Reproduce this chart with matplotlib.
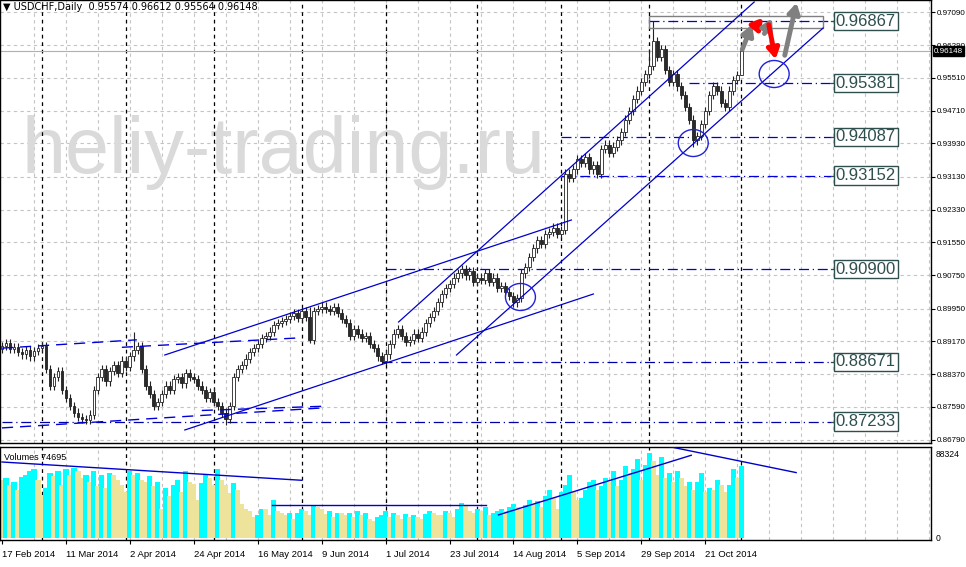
import matplotlib
matplotlib.use("Agg")
import matplotlib.pyplot as plt
from matplotlib.patches import Ellipse, Rectangle
import numpy as np

closes = [0.8905,0.8912,0.8898,0.8903,0.8890,0.8885,0.8896,0.8880,0.8893,0.8900,
          0.8905,0.8850,0.8810,0.8830,0.8845,0.8800,0.8780,0.8760,0.8745,0.8735,
          0.8730,0.8728,0.8740,0.8800,0.8830,0.8850,0.8820,0.8845,0.8860,0.8840,
          0.8870,0.8855,0.8880,0.8895,0.8905,0.8850,0.8810,0.8790,0.8760,0.8770,
          0.8790,0.8810,0.8800,0.8825,0.8830,0.8815,0.8840,0.8830,0.8825,0.8810,
          0.8800,0.8780,0.8795,0.8770,0.8760,0.8745,0.8730,0.8760,0.8830,0.8850,
          0.8860,0.8875,0.8890,0.8900,0.8910,0.8925,0.8930,0.8940,0.8955,0.8960,
          0.8965,0.8970,0.8978,0.8985,0.8972,0.8990,0.8975,0.8920,0.8990,0.8995,
          0.9000,0.8995,0.8990,0.8998,0.8985,0.8970,0.8960,0.8930,0.8945,0.8935,
          0.8925,0.8930,0.8910,0.8900,0.8880,0.8870,0.8885,0.8910,0.8935,0.8945,
          0.8930,0.8915,0.8920,0.8935,0.8925,0.8940,0.8960,0.8975,0.8990,0.9010,
          0.9030,0.9045,0.9055,0.9070,0.9080,0.9090,0.9075,0.9085,0.9060,0.9070,
          0.9065,0.9080,0.9060,0.9070,0.9045,0.9050,0.9035,0.9025,0.9010,0.9020,
          0.9080,0.9095,0.9120,0.9140,0.9160,0.9150,0.9175,0.9180,0.9190,0.9175,
          0.9185,0.9320,0.9310,0.9330,0.9355,0.9345,0.9360,0.9330,0.9340,0.9320,
          0.9380,0.9390,0.9370,0.9385,0.9400,0.9420,0.9450,0.9470,0.9500,0.9520,
          0.9540,0.9560,0.9580,0.9640,0.9600,0.9620,0.9570,0.9540,0.9560,0.9530,
          0.9510,0.9480,0.9450,0.9400,0.9410,0.9440,0.9470,0.9510,0.9530,0.9520,
          0.9490,0.9480,0.9520,0.9545,0.95574,0.96148]
first_open = 0.8898
wick = 0.0010
extreme_highs = {33: 0.8940, 163: 0.96867, 162: 0.9620, 77: 0.9000}
extreme_lows = {56: 0.8716, 77: 0.8912, 95: 0.8862, 128: 0.8998, 173: 0.9385, 185: 0.95564}

volumes = [60,62,55,58,50,63,66,70,72,60, 45,52,68,64,70,55,72,65,73,70,
           62,66,58,70,54,65,52,68,66,60, 55,48,70,66,68,60,58,64,54,58,
           30,52,44,55,60,48,70,58,56,40, 57,66,62,55,72,60,55,47,57,50,
           35,30,28,22,24,30,30,24,40,28, 26,24,26,20,26,30,28,24,34,32,
           30,25,28,22,26,26,24,26,22,28, 24,26,20,18,22,24,28,22,26,24,
           20,25,22,24,22,20,25,28,26,24, 24,28,26,22,30,36,34,28,26,30,
           28,32,24,26,28,30,28,32,35,32, 30,34,40,35,38,32,44,50,42,30,
           48,55,65,48,40,42,50,58,60,50, 54,62,58,70,54,60,75,68,72,82,
           60,76,88,80,65,84,62,68,58,70, 62,54,58,50,58,68,48,52,50,60,
           55,48,55,72,62,74.695]

date_labels = ["17 Feb 2014","11 Mar 2014","2 Apr 2014","24 Apr 2014","16 May 2014","9 Jun 2014",
               "1 Jul 2014","23 Jul 2014","14 Aug 2014","5 Sep 2014","29 Sep 2014","21 Oct 2014"]
date_pos = [0,16,32,48,64,80,96,112,128,144,160,176]
month_starts = [10,31,53,75,96,119,140,162,185]
price_ticks = [0.97090,0.96290,0.95510,0.94710,0.93930,0.93130,0.92330,0.91550,
               0.90750,0.89950,0.89170,0.88370,0.87590,0.86790]
levels = [0.96867,0.95381,0.94087,0.93152,0.90900,0.88671,0.87233]
level_start = [162,172,140,140,96,95,0]
level_colors = ['#0000dd','#0000dd','#0000dd','#0000dd','#0000dd','#0000aa','#0000aa']

trend_lines = [((113.75,0.88835),(205.5,0.96705)),
               ((99.25,0.89629),(188.25,0.97331)),
               ((40.75,0.88835),(142.5,0.92084)),
               ((45.75,0.87030),(148,0.90303))]
dashed_lines = [((0,0.8900),(33.75,0.8920)),((0,0.8708),(80,0.8756)),
                ((30,0.8902),(75,0.8925)),((50,0.8750),(80,0.8760))]
circles = [(129.75,0.90231),(173,0.93937),(193.25,0.95598)]
arrows = [((185,0.96127),(188,0.96849),'#808080'),((188.5,0.96849),(190,0.96464),'#ff0000'),
          ((190.5,0.96512),(193,0.96994),'#808080'),((191.75,0.96849),(193.75,0.95887),'#ff0000'),
          ((195.75,0.95983),(199,0.97379),'#808080')]
vol_lines = [((0,79),(75,60)),((67.5,34),(121.25,34)),((124.25,24),(172.5,86)),((167,95),(198.75,68))]

W, H = 966, 567
fig = plt.figure(figsize=(W/100, H/100), dpi=100)
plt.rcParams['font.family'] = ['Liberation Sans', 'DejaVu Sans']
ax = fig.add_axes([0, 1-443/H, 931/W, 443/H])
axv = fig.add_axes([0, 1-540/H, 931/W, 93/H])
xmin, xmax = -0.5, 232.5
for a in (ax, axv):
    a.set_xlim(xmin, xmax)
    for s in a.spines.values():
        s.set_color('black'); s.set_linewidth(1)
    for m in month_starts:
        a.axvline(m, color='black', ls=(0,(3,3)), lw=0.9, zorder=1)
    for g in range(8, 233, 8):
        a.axvline(g, color='#c4c4c4', ls=(0,(3,3)), lw=0.8, zorder=0)

ax.set_ylim(0.86717, 0.97379)
for t in price_ticks:
    ax.axhline(t, color='#c4c4c4', ls=(0,(3,3)), lw=0.8, zorder=0)
ax.yaxis.tick_right()
ax.set_yticks(price_ticks)
ax.set_yticklabels([f"{t:.5f}" for t in price_ticks], fontsize=5.8)
ax.tick_params(axis='y', length=3, pad=1)
ax.set_xticks([])

ax.text(20/4, 0.9371, "heliy-trading.ru", fontsize=57, color='#dadada',
        family='Liberation Sans', va='center', ha='left', zorder=0)
ax.text(0.003, 0.995, "\u25bc USDCHF,Daily  0.95574 0.96612 0.95564 0.96148", transform=ax.transAxes,
        fontsize=7, va='top', ha='left', family=['DejaVu Sans'])

opens = [first_open] + closes[:-1]
for i, (o, c) in enumerate(zip(opens, closes)):
    hi = extreme_highs.get(i, max(o, c) + wick)
    lo = extreme_lows.get(i, min(o, c) - wick)
    ax.vlines(i, lo, hi, color='#222222', lw=0.8, zorder=3)
    fc = 'white' if c >= o else '#2a2a2a'
    ax.add_patch(Rectangle((i-0.35, min(o, c)), 0.7, max(abs(c-o), 0.00012),
                           facecolor=fc, edgecolor='#222222', lw=0.6, zorder=4))

for lv, st, col in zip(levels, level_start, level_colors):
    ax.plot([st, 207.5], [lv, lv], color=col, lw=0.9, ls=(0,(8,3,1,3)), zorder=2)
    ax.plot([207.5, 208.75], [lv, lv], color='#2f4f4f', lw=0.9)
    ax.text(216.2, lv, f"{lv:.5f}", fontsize=12, color='#2f4f4f', ha='center', va='center',
            bbox=dict(boxstyle='square,pad=0.1', fc='white', ec='#2f4f4f', lw=1), zorder=6)

ax.add_patch(Rectangle((162, 0.96705), 43.5, 0.00289, fill=False, ec='#808080', lw=1, zorder=5))
for (p0, p1) in trend_lines:
    ax.plot([p0[0], p1[0]], [p0[1], p1[1]], color='#0000cc', lw=0.9, zorder=5)
for (p0, p1) in dashed_lines:
    ax.plot([p0[0], p1[0]], [p0[1], p1[1]], color='#0000dd', lw=1, ls=(0,(8,5)), zorder=5)
for (cx, cy) in circles:
    ax.add_patch(Ellipse((cx, cy), 7.5, 0.0065, fill=False, ec='#2020dd', lw=1, zorder=6))
for p0, p1, col in arrows:
    ax.annotate("", xy=p1, xytext=p0, zorder=7,
                arrowprops=dict(arrowstyle='-|>,head_width=0.35,head_length=0.6', color=col, lw=3.5))

cur = closes[-1]
ax.axhline(cur, color='#b0b0b0', lw=0.8, zorder=1)
ax.text(1.003, cur, f"{cur:.5f}", transform=ax.get_yaxis_transform(), fontsize=5.8, color='white',
        va='center', ha='left', zorder=10,
        bbox=dict(boxstyle='square,pad=0.15', fc='black', ec='black'))

axv.set_ylim(-2.1, 94.6)
for i, v in enumerate(volumes):
    col = '#00ffff' if (i > 0 and v > volumes[i-1]) else '#eee39a'
    axv.bar(i, v, width=1.3, color=col, zorder=2, linewidth=0)
for (p0, p1) in vol_lines:
    axv.plot([p0[0], p1[0]], [p0[1], p1[1]], color='#0000cc', lw=1, zorder=5)
axv.text(0.004, 0.94, "Volumes 74695", transform=axv.transAxes, fontsize=6.5, va='top', ha='left')
axv.yaxis.tick_right()
axv.set_yticks([0, 88.324])
axv.set_yticklabels(["0", "88324"], fontsize=6.2)
axv.tick_params(axis='y', length=0, pad=3)
axv.set_xticks(date_pos)
axv.set_xticklabels(date_labels, fontsize=6.8, ha='left')
axv.tick_params(axis='x', length=3, pad=4)

fig.savefig("out.png", dpi=100)
